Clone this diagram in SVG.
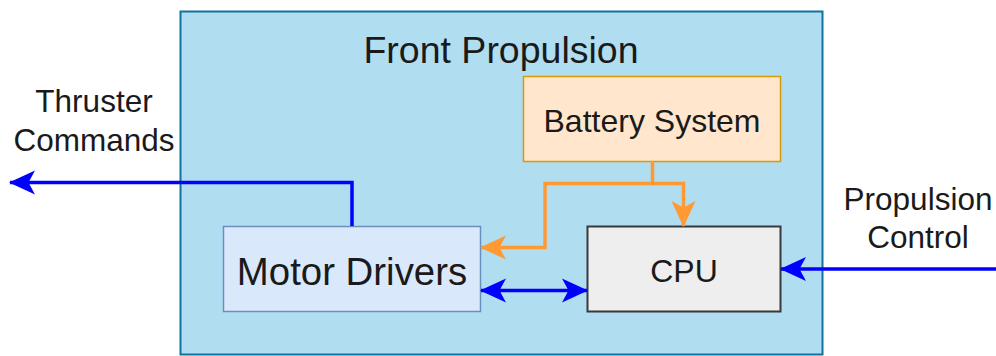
<svg xmlns="http://www.w3.org/2000/svg" width="996" height="356" viewBox="0 0 996 356">
<style>
text{font-family:"Liberation Sans",Arial,sans-serif;fill:#1a1a1a;text-anchor:middle}
.blue{stroke:#0000ff;stroke-width:3.5;fill:none}
.orange{stroke:#ff9933;stroke-width:3.5;fill:none}
</style>
<defs>
<marker id="ab" viewBox="0 0 26 26" refX="25" refY="13" markerWidth="26" markerHeight="26" markerUnits="userSpaceOnUse" orient="auto-start-reverse">
<path d="M0,1 L26,13 L0,25 L6.5,13 Z" fill="#0000ff"/>
</marker>
<marker id="ao" viewBox="0 0 26 26" refX="25" refY="13" markerWidth="26" markerHeight="26" markerUnits="userSpaceOnUse" orient="auto">
<path d="M0,1 L26,13 L0,25 L6.5,13 Z" fill="#ff9933"/>
</marker>
</defs>
<g id="front-propulsion">
<rect x="180.5" y="11.5" width="642" height="343" fill="#b1ddf0" stroke="#10739e" stroke-width="2"/>
<text x="501" y="63" font-size="37.5">Front Propulsion</text>
</g>
<g id="battery-system">
<rect x="523.5" y="76.5" width="257" height="85" fill="#ffe6cc" stroke="#d79b00" stroke-width="1.5"/>
<text x="652" y="132" font-size="32">Battery System</text>
</g>
<g id="motor-drivers">
<rect x="223.5" y="226.5" width="257" height="85" fill="#dae8fc" stroke="#6c8ebf" stroke-width="1.5"/>
<text x="352" y="285" font-size="38.4">Motor Drivers</text>
</g>
<g id="cpu">
<rect x="587.5" y="226.5" width="193" height="85" fill="#eeeeee" stroke="#36393d" stroke-width="2"/>
<text x="684" y="282" font-size="32">CPU</text>
</g>
<g id="labels">
<text x="94" y="112" font-size="31.5">Thruster</text>
<text x="94" y="151" font-size="31.5">Commands</text>
<text x="918" y="210" font-size="31.5">Propulsion</text>
<text x="918" y="248" font-size="31.5">Control</text>
</g>
<g id="connectors">
<path class="blue" d="M352,226 V182.5 H10" marker-end="url(#ab)"/>
<path class="orange" d="M652.5,161 V183.5 H683.5 V226" marker-end="url(#ao)"/>
<path class="orange" d="M652.5,183.5 H545 V247.5 H481" marker-end="url(#ao)"/>
<path class="blue" d="M481,290.5 H587" marker-start="url(#ab)" marker-end="url(#ab)"/>
<path class="blue" d="M996,269 H781" marker-end="url(#ab)"/>
</g>
</svg>
